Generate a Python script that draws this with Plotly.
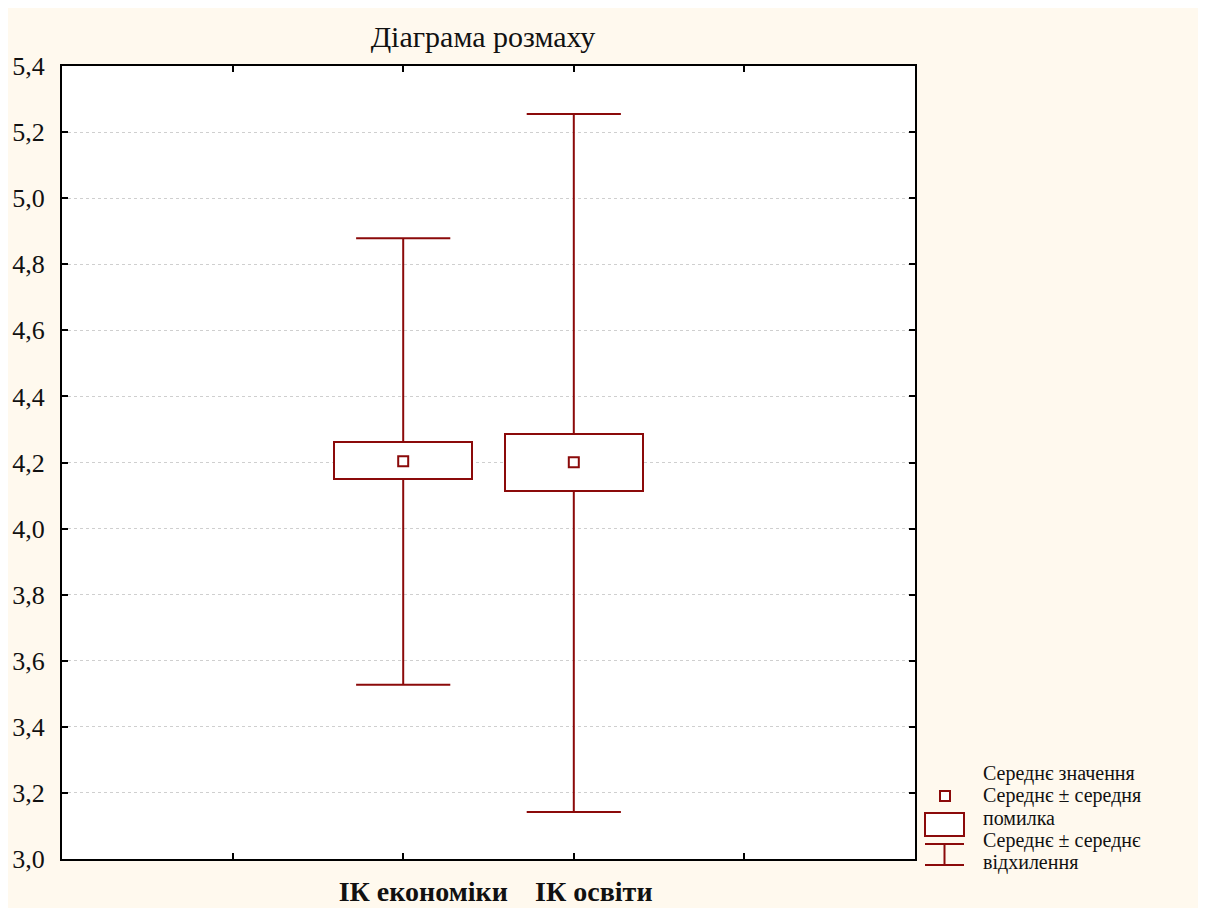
import plotly.graph_objects as go

# ---- data ----
categories = ["ІК економіки", "ІК освіти"]
positions = [1, 2]
means = [4.204, 4.201]
se_low = [4.150, 4.114]
se_high = [4.262, 4.286]
sd_low = [3.527, 3.142]
sd_high = [4.879, 5.255]

title_text = "Діаграма розмаху"
legend_lines = ["Середнє значення", "Середнє ± середня", "помилка",
                "Середнє ± середнє", "відхилення"]

RED = "#8B0A0A"
CREAM = "#FFF9EE"
OFF = 8  # page body margin
W, H = 1206 - OFF, 908 - OFF
L, R, T, B = 62 - OFF, 915 - OFF, 66 - OFF, 859 - OFF
BOX_W = 0.81
CAP_HALF = 0.276

fig = go.Figure()
# mean ± SE boxes
fig.add_trace(go.Bar(
    x=positions, base=se_low, y=[h - l for h, l in zip(se_high, se_low)],
    width=BOX_W, marker=dict(color="white", line=dict(color=RED, width=2)),
    showlegend=False, hoverinfo="skip"))

# mean ± SD whiskers
wx, wy = [], []
for p, lo, hi, slo, shi in zip(positions, se_low, se_high, sd_low, sd_high):
    wx += [p, p, None, p - CAP_HALF, p + CAP_HALF, None,
           p, p, None, p - CAP_HALF, p + CAP_HALF, None]
    wy += [hi, shi, None, shi, shi, None,
           lo, slo, None, slo, slo, None]
fig.add_trace(go.Scatter(x=wx, y=wy, mode="lines",
                         line=dict(color=RED, width=2),
                         showlegend=False, hoverinfo="skip"))

# means
fig.add_trace(go.Scatter(
    x=positions, y=means, mode="markers",
    marker=dict(symbol="square", size=10, color="white",
                line=dict(color=RED, width=2)),
    showlegend=False, hoverinfo="skip"))


def px(x):
    return (x - OFF - L) / (R - L)


def py(y):
    return (B - (y - OFF)) / (B - T)


shapes = [
    dict(type="rect", xref="paper", yref="paper", x0=px(940), x1=px(950),
         y0=py(791), y1=py(801), line=dict(color=RED, width=2), fillcolor="white"),
    dict(type="rect", xref="paper", yref="paper", x0=px(925), x1=px(964),
         y0=py(813), y1=py(836), line=dict(color=RED, width=2), fillcolor="white"),
    dict(type="line", xref="paper", yref="paper", x0=px(925), x1=px(964),
         y0=py(844), y1=py(844), line=dict(color=RED, width=2)),
    dict(type="line", xref="paper", yref="paper", x0=px(944.5), x1=px(944.5),
         y0=py(844), y1=py(865), line=dict(color=RED, width=2)),
    dict(type="line", xref="paper", yref="paper", x0=px(925), x1=px(964),
         y0=py(865), y1=py(865), line=dict(color=RED, width=2)),
]

legend_y = [773, 795, 818, 840, 862]
annotations = []
for txt, yy in zip(legend_lines, legend_y):
    annotations.append(dict(
        text=txt, xref="paper", yref="paper", x=px(981), y=py(yy),
        xanchor="left", yanchor="middle", showarrow=False,
        font=dict(family="Liberation Serif", size=20, color="#111")))

fig.update_layout(
    width=W, height=H,
    margin=dict(l=L, r=W - R, t=T, b=H - B, autoexpand=False),
    paper_bgcolor=CREAM, plot_bgcolor="white",
    separators=", ",
    title=dict(text=title_text, x=(483 - OFF) / W, xanchor="center",
               y=1 - (36 - OFF) / H, yanchor="middle", automargin=False,
               font=dict(family="Liberation Serif", size=30, color="#111")),
    shapes=shapes, annotations=annotations,
    showlegend=False, bargap=0,
    xaxis=dict(range=[-1, 4], tickvals=[0, 1, 2, 3],
               ticktext=["", categories[0], categories[1], ""],
               ticks="inside", ticklen=6, tickwidth=2, tickcolor="black",
               showline=True, linecolor="black", linewidth=2, mirror="ticks",
               showgrid=False, zeroline=False, ticklabelshift=20,
               ticklabelstandoff=6, automargin=False,
               tickfont=dict(family="Liberation Serif", size=28, color="#111",
                             weight="bold")),
    yaxis=dict(range=[3.0, 5.4], dtick=0.2, tick0=3.0, tickformat=".1f",
               ticks="inside", ticklen=6, tickwidth=2, tickcolor="black",
               showline=True, linecolor="black", linewidth=2, mirror="ticks",
               showgrid=True, gridcolor="#cfcfcf", griddash="dot", gridwidth=1,
               zeroline=False, ticklabelstandoff=10, automargin=False,
               tickfont=dict(family="Liberation Serif", size=26, color="#111")),
)

fig.write_html("out.html")
